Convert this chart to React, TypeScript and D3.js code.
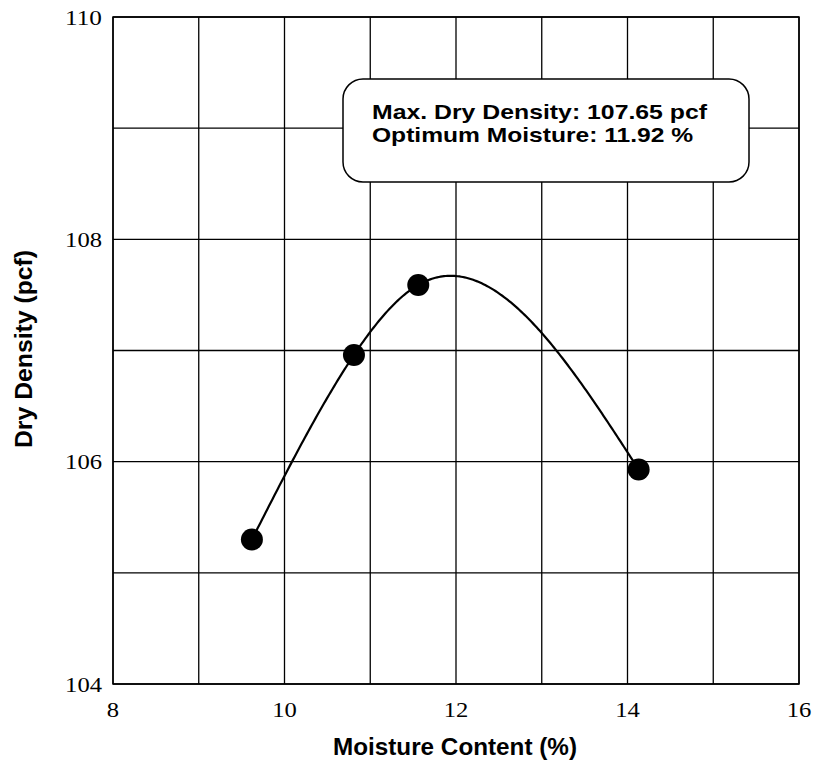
import React from "react";
import * as d3 from "d3";

const moisture = [9.62, 10.81, 11.56, 14.13];
const density = [105.3, 106.96, 107.59, 105.93];
const xTicks = [8, 10, 12, 14, 16];
const yTicks = [104, 106, 108, 110];
const xGrid = [8, 9, 10, 11, 12, 13, 14, 15, 16];
const yGrid = [104, 105, 106, 107, 108, 109, 110];
const infoLines = ["Max. Dry Density: 107.65 pcf", "Optimum Moisture: 11.92 %"];
const infoWidths = [335, 321];

// natural cubic spline through the measured points, keyed by moisture
function naturalSpline(xs: number[], ys: number[]) {
  const n = xs.length;
  const h = xs.slice(1).map((v, i) => v - xs[i]);
  const M = new Array(n).fill(0);
  if (n > 2) {
    const m = n - 2;
    const a: number[] = [], b: number[] = [], c: number[] = [], r: number[] = [];
    for (let i = 1; i <= m; i++) {
      a.push(h[i - 1]);
      b.push(2 * (h[i - 1] + h[i]));
      c.push(h[i]);
      r.push(6 * ((ys[i + 1] - ys[i]) / h[i] - (ys[i] - ys[i - 1]) / h[i - 1]));
    }
    for (let i = 1; i < m; i++) {
      const w = a[i] / b[i - 1];
      b[i] -= w * c[i - 1];
      r[i] -= w * r[i - 1];
    }
    const sol = new Array(m).fill(0);
    sol[m - 1] = r[m - 1] / b[m - 1];
    for (let i = m - 2; i >= 0; i--) sol[i] = (r[i] - c[i] * sol[i + 1]) / b[i];
    for (let i = 0; i < m; i++) M[i + 1] = sol[i];
  }
  return (xv: number) => {
    let k = 0;
    while (k < n - 2 && xv > xs[k + 1]) k++;
    const hk = h[k];
    const A = (xs[k + 1] - xv) / hk, B = (xv - xs[k]) / hk;
    return A * ys[k] + B * ys[k + 1] + ((A * A * A - A) * M[k] + (B * B * B - B) * M[k + 1]) * hk * hk / 6;
  };
}

export default function App() {
  const W = 815, H = 767;
  const left = 113, right = 799, top = 17, bottom = 684;
  const x = d3.scaleLinear().domain([8, 16]).range([left, right]);
  const y = d3.scaleLinear().domain([104, 110]).range([bottom, top]);
  const pts = moisture.map((m, i) => [m, density[i]] as [number, number]);
  const spline = naturalSpline(moisture, density);
  const xs = d3.range(moisture[0], moisture[moisture.length - 1], 0.02).concat([moisture[moisture.length - 1]]);
  const curvePts = xs.map(v => [v, spline(v)] as [number, number]);
  const line = d3.line<[number, number]>().x(d => x(d[0])).y(d => y(d[1])).curve(d3.curveLinear);
  const serif = "Liberation Serif, Times New Roman, serif";
  const sans = "Liberation Sans, Arial, sans-serif";
  return (
    <svg width={W} height={H} style={{ position: "absolute", left: 0, top: 0, background: "#fff" }}>
      {xGrid.map(v => (
        <line key={"gx" + v} x1={x(v)} x2={x(v)} y1={top} y2={bottom} stroke="#000" strokeWidth={1.3} />
      ))}
      {yGrid.map(v => (
        <line key={"gy" + v} x1={left} x2={right} y1={y(v)} y2={y(v)} stroke="#000" strokeWidth={1.3} />
      ))}
      <rect x={left} y={top} width={right - left} height={bottom - top} fill="none" stroke="#000" strokeWidth={1.5} />
      {xTicks.map(v => (
        <text key={"xt" + v} x={x(v)} y={717} textAnchor="middle" fontFamily={serif} fontSize={21}
          textLength={String(v).length * 12.3} lengthAdjust="spacingAndGlyphs" fill="#000">{v}</text>
      ))}
      {yTicks.map(v => (
        <text key={"yt" + v} x={102} y={y(v) + 7.5} textAnchor="end" fontFamily={serif} fontSize={21}
          textLength={String(v).length * 12.3} lengthAdjust="spacingAndGlyphs" fill="#000">{v}</text>
      ))}
      <text x={455} y={755} textAnchor="middle" fontFamily={sans} fontWeight="bold" fontSize={23}
        textLength={244} lengthAdjust="spacingAndGlyphs" fill="#000">Moisture Content (%)</text>
      <text transform={`translate(32,349) rotate(-90)`} textAnchor="middle" fontFamily={sans} fontWeight="bold" fontSize={23}
        textLength={198} lengthAdjust="spacingAndGlyphs" fill="#000">Dry Density (pcf)</text>
      <path d={line(curvePts) || ""} fill="none" stroke="#000" strokeWidth={2.2} />
      {pts.map((p, i) => (
        <circle key={"p" + i} cx={x(p[0])} cy={y(p[1])} r={11} fill="#000" />
      ))}
      <rect x={343} y={79} width={406} height={103} rx={20} ry={20} fill="#fff" stroke="#000" strokeWidth={1.5} />
      {infoLines.map((t, i) => (
        <text key={"il" + i} x={372} y={119 + i * 23} fontFamily={sans} fontWeight="bold" fontSize={21}
          textLength={infoWidths[i]} lengthAdjust="spacingAndGlyphs" fill="#000">{t}</text>
      ))}
    </svg>
  );
}
